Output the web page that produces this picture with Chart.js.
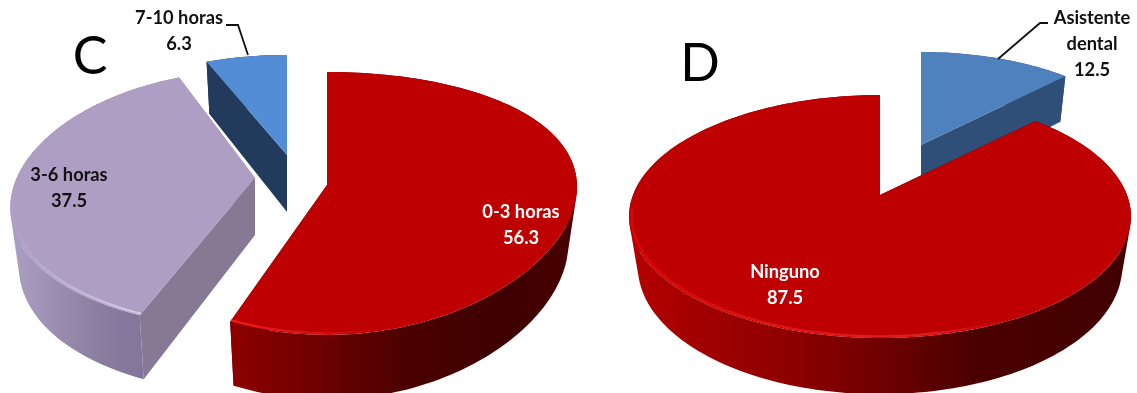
<!DOCTYPE html>
<html>
<head>
<meta charset="utf-8">
<script src="https://cdn.jsdelivr.net/npm/chart.js@4"></script>
<style>
  html, body { margin: 0; padding: 0; background: #fff; overflow: hidden; }
  #stage { position: relative; width: 1137px; height: 393px; }
  canvas { position: absolute; top: 0; left: 0; }
</style>
</head>
<body>
<div id="stage">
  <canvas id="pieC" width="1137" height="393"></canvas>
  <canvas id="pieD" width="1137" height="393"></canvas>
</div>
<script>
// Panel C: hours per day
const hoursLabels = ['0-3 horas', '3-6 horas', '7-10 horas'];
const hoursValues = [56.3, 37.5, 6.3];
// Panel D: staff support
const staffLabels = ['Asistente dental', 'Ninguno'];
const staffValues = [12.5, 87.5];

const FONT = 'Lato, "Open Sans", sans-serif';

// Styling and extrusion settings for one 3D pie panel
const panelC = {
  title: 'C', titleAt: [90, 57],
  squashX: 1.257, squashY: 0.656, depth: 57,
  tilt: [0.14, 0.167, 0.14],
  shift: [[-241.5, -11.5], [-313.5, -18.5], [-281.5, -41.5]],
  scaleX: [1.012, 0.965, 0.9],
  scaleY: [1, 0.975, 0.885],
  taper: [0.1, 1.36, 0.5],
  top: ['#BE0000', '#AE9EC4', '#538DD5'],
  side: ['#5a0000', '#877894', '#223A5C'],
  wall: [
    [[0, '#8e0000'], [0.3, '#680000'], [0.5, '#4c0000'], [0.8, '#3e0000'], [1, '#4a0000']],
    [[0, '#ac9fc4'], [0.25, '#9c8fb2'], [0.55, '#8a7c9e'], [0.8, '#83759a'], [1, '#83759a']],
    [[0, '#223A5C'], [1, '#223A5C']]
  ],
  rim: [
    [[0, '#ee2020'], [0.25, '#d81010'], [0.45, '#BE0000'], [1, '#BE0000']],
    [[0, '#AE9EC4'], [0.3, '#c0b4d4'], [0.8, '#d4cae4'], [1, '#d4cae4']],
    null
  ],
  text: [
    { lines: ['0-3 horas', '56.3'], at: [521, 212], color: '#fff' },
    { lines: ['3-6 horas', '37.5'], at: [69, 175], color: '#111' },
    { lines: ['7-10 horas', '6.3'], at: [179, 18], color: '#111' }
  ],
  leaders: [[[226, 25], [238, 25], [248, 55]]]
};
const panelD = {
  title: 'D', titleAt: [700, 64],
  squashX: 1.257, squashY: 0.599, depth: 49,
  tilt: [0.177, 0.177],
  shift: [[352.5, -51.5], [311.5, -1.5]],
  scaleX: [0.93, 1],
  scaleY: [0.93, 1],
  taper: [1, 1],
  top: ['#4F81BD', '#BE0000'],
  side: ['#2F4F78', '#5a0000'],
  wall: [
    [[0, '#2F4F78'], [1, '#2F4F78']],
    [[0, '#b40000'], [0.15, '#a20000'], [0.35, '#8a0000'], [0.55, '#660000'], [0.68, '#4c0000'], [1, '#400000']]
  ],
  rim: [
    null,
    [[0, '#dc0606'], [0.3, '#e01616'], [0.6, '#e01e1e'], [0.75, '#BE0000'], [1, '#BE0000']]
  ],
  text: [
    { lines: ['Asistente', 'dental', '12.5'], at: [1092, 18], color: '#111' },
    { lines: ['Ninguno', '87.5'], at: [785, 272], color: '#fff' }
  ],
  leaders: [[[1048, 23], [1040, 23], [998, 59]]]
};

// Draws every arc as an extruded wedge, using the angles the pie controller computed
const pie3d = {
  id: 'pie3d',
  beforeDatasetDraw(chart, args) {
    const ctx = chart.ctx;
    const cfg = chart.options.plugins.pie3d;
    const arcs = chart.getDatasetMeta(args.index).data;
    const order = arcs.map((_, i) => i).sort((a, b) => cfg.shift[a][1] - cfg.shift[b][1]);

    for (const i of order) {
      const el = arcs[i];
      const R = el.outerRadius;
      const apexX = el.x + cfg.shift[i][0];
      const apexY = el.y + cfg.shift[i][1];
      const rx = R * cfg.squashX * cfg.scaleX[i];
      const ry = R * cfg.squashY * cfg.scaleY[i];
      const tilt = cfg.tilt[i];

      // Screen position of a rim point with perspective; lower ring sits deeper
      const onRing = (a, lower, inset = 1) => {
        const u = Math.cos(a) * inset, v = Math.sin(a) * inset;
        const dx = rx * u / (1 - tilt * cfg.taper[i] * v);
        const dy = ry * v / (1 - tilt * v);
        return lower
          ? [apexX + dx * 0.965, apexY + cfg.depth + dy * 1.05]
          : [apexX + dx, apexY + dy];
      };
      const steps = Math.max(12, Math.ceil((el.endAngle - el.startAngle) * 40));
      const angles = [];
      for (let k = 0; k <= steps; k++) {
        angles.push(el.startAngle + (el.endAngle - el.startAngle) * k / steps);
      }
      const upper = angles.map(a => onRing(a, false));
      const lower = angles.map(a => onRing(a, true));
      const xs = upper.map(p => p[0]);
      const minX = Math.min(...xs), maxX = Math.max(...xs);
      const across = stops => {
        const g = ctx.createLinearGradient(minX, 0, maxX, 0);
        stops.forEach(([t, c]) => g.addColorStop(t, c));
        return g;
      };
      const addPoly = pts => {
        pts.forEach((p, k) => k ? ctx.lineTo(p[0], p[1]) : ctx.moveTo(p[0], p[1]));
        ctx.closePath();
      };
      const poly = pts => {
        ctx.beginPath();
        addPoly(pts);
      };

      // Flat cut faces
      const apex = [apexX, apexY], apexLow = [apexX, apexY + cfg.depth];
      ctx.fillStyle = cfg.side[i];
      poly([apex, upper[0], lower[0], apexLow]); ctx.fill();
      poly([apex, upper[steps], lower[steps], apexLow]); ctx.fill();

      // Curved outer wall: all strips share one path, wound the same way, so no seams show
      ctx.fillStyle = across(cfg.wall[i]);
      ctx.beginPath();
      for (let k = 0; k < steps; k++) {
        const quad = [upper[k], upper[k + 1], lower[k + 1], lower[k]];
        const area = quad.reduce((sum, p, n) => {
          const q = quad[(n + 1) % 4];
          return sum + p[0] * q[1] - q[0] * p[1];
        }, 0);
        addPoly(area < 0 ? quad.reverse() : quad);
      }
      ctx.fill('nonzero');

      // Top face
      ctx.fillStyle = el.options.backgroundColor;
      poly([apex].concat(upper)); ctx.fill();

      // Soft bright bevel along the front of the top face
      if (cfg.rim[i]) {
        const front = angles.filter(a => Math.sin(a) > 0.1).map(a => onRing(a, false, 0.99));
        ctx.save();
        ctx.filter = 'blur(0.7px)';
        ctx.strokeStyle = across(cfg.rim[i]);
        ctx.lineWidth = 2.2;
        ctx.lineJoin = 'round';
        ctx.beginPath();
        front.forEach((p, k) => k ? ctx.lineTo(p[0], p[1]) : ctx.moveTo(p[0], p[1]));
        ctx.stroke();
        ctx.restore();
      }
    }
    return false;
  },
  afterDraw(chart) {
    const ctx = chart.ctx;
    const cfg = chart.options.plugins.pie3d;
    ctx.save();
    ctx.textAlign = 'center';
    ctx.textBaseline = 'middle';

    ctx.strokeStyle = '#111';
    ctx.lineWidth = 1.8;
    cfg.leaders.forEach(line => {
      ctx.beginPath();
      line.forEach((p, k) => k ? ctx.lineTo(p[0], p[1]) : ctx.moveTo(p[0], p[1]));
      ctx.stroke();
    });

    ctx.font = 'bold 18.3px ' + FONT;
    cfg.text.forEach(t => {
      ctx.fillStyle = t.color;
      t.lines.forEach((line, k) => ctx.fillText(line, t.at[0], t.at[1] + k * 26));
    });

    ctx.fillStyle = '#000';
    ctx.font = '52px ' + FONT;
    ctx.fillText(cfg.title, cfg.titleAt[0], cfg.titleAt[1]);
    ctx.restore();
  }
};

function drawPanel(id, labels, values, panel) {
  return new Chart(document.getElementById(id), {
    type: 'pie',
    data: {
      labels,
      datasets: [{ data: values, backgroundColor: panel.top, borderWidth: 0 }]
    },
    options: {
      responsive: false,
      animation: false,
      events: [],
      plugins: { legend: { display: false }, tooltip: { enabled: false }, pie3d: panel }
    },
    plugins: [pie3d]
  });
}

drawPanel('pieC', hoursLabels, hoursValues, panelC);
drawPanel('pieD', staffLabels, staffValues, panelD);
</script>
</body>
</html>
